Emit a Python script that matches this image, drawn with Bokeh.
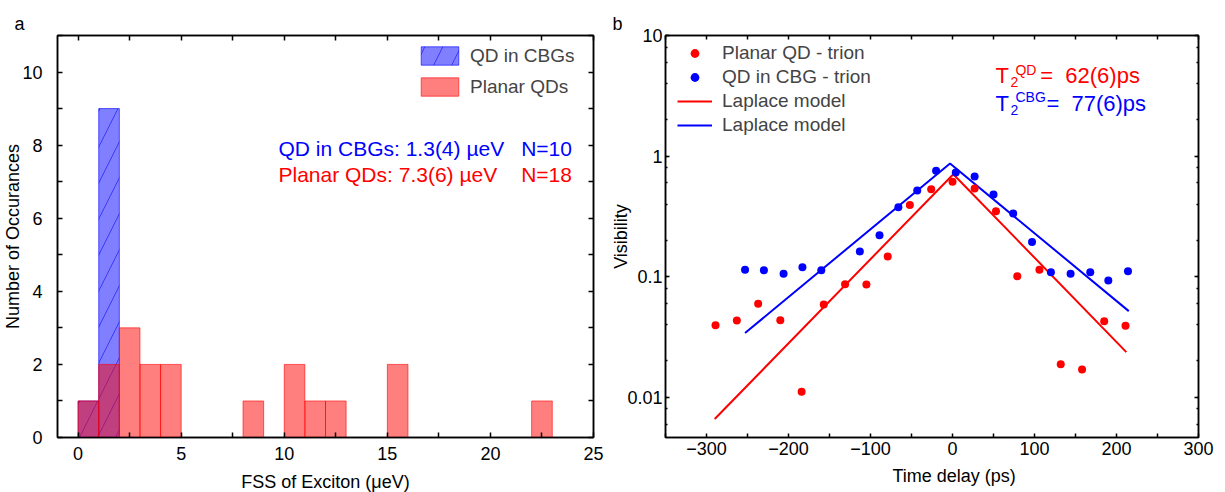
import math
from bokeh.plotting import figure
from bokeh.models import (Range1d, LinearAxis, LogAxis, FixedTicker, LogTicker, Label,
                          Legend, LegendItem, CustomJSTickFormatter, ColumnDataSource,
                          CustomLabelingPolicy, Title)
from bokeh.layouts import row
from bokeh.embed import file_html
from bokeh.resources import INLINE

FONT = "Liberation Sans"
RED = "#ff0000"
BLUE = "#0000ff"
NB = "\u00a0"

# ---------------- data: panel a (histogram) ----------------
cbg_bin_left = [0, 1]
cbg_counts = [1, 9]
planar_bin_left = [0, 1, 2, 3, 4, 8, 10, 11, 12, 15, 22]
planar_counts = [1, 2, 3, 2, 2, 1, 2, 1, 1, 2, 1]
bin_width = 1
fss_major_ticks = [0, 5, 10, 15, 20, 25]
fss_minor_ticks = [2.5, 7.5, 12.5, 17.5, 22.5]
count_major_ticks = [0, 2, 4, 6, 8, 10]
count_minor_ticks = [1, 3, 5, 7, 9, 11]

# ---------------- data: panel b (visibility) ----------------
planar_delay = [-289, -263, -237, -210, -184, -157, -131, -105, -79, -52,
                -26, 0, 27, 53, 79, 106, 132, 158, 185, 211]
planar_vis = [0.0396, 0.0433, 0.0596, 0.0435, 0.0111, 0.0588, 0.0865, 0.0863, 0.147, 0.394,
              0.532, 0.612, 0.538, 0.349, 0.101, 0.114, 0.0188, 0.0170, 0.0428, 0.0391]
cbg_delay = [-253, -230, -206, -183, -160, -113, -89, -66, -43, -20,
             4, 27, 50, 74, 97, 120, 144, 168, 190, 214]
cbg_vis = [0.114, 0.113, 0.106, 0.120, 0.113, 0.162, 0.221, 0.377, 0.519, 0.755,
           0.731, 0.678, 0.480, 0.334, 0.194, 0.109, 0.106, 0.109, 0.093, 0.111]
planar_model_delay = [-290, 1, 212]
planar_model_vis = [0.0066, 0.708, 0.0237]
cbg_model_delay = [-253, -3, 215]
cbg_model_vis = [0.0341, 0.869, 0.0518]
delay_major_ticks = [-300, -200, -100, 0, 100, 200, 300]
delay_minor_ticks = [-350, -250, -150, -50, 50, 150, 250]

HIDE_POLICY_CODE = """
const out = [];
for (const i of indices) out.push(i);
for (const i of out) indices.unset(i);
return indices;
"""


def style_axis(ax, tick_in, minor_in, standoff, show_labels=True):
    ax.axis_line_color = "black"
    ax.axis_line_width = 1.5
    ax.major_tick_line_color = "black"
    ax.major_tick_line_width = 1.5
    ax.minor_tick_line_color = "black"
    ax.minor_tick_line_width = 1.5
    ax.major_tick_in = tick_in
    ax.major_tick_out = 0
    ax.minor_tick_in = minor_in
    ax.minor_tick_out = 0
    ax.major_label_text_font = FONT
    ax.major_label_text_color = "black"
    ax.axis_label_text_font = FONT
    ax.axis_label_text_font_size = "18px"
    ax.axis_label_text_font_style = "normal"
    ax.axis_label_text_color = "black"
    if show_labels:
        ax.major_label_standoff = standoff
        ax.major_label_text_font_size = "18px"
    else:
        ax.major_label_standoff = 0
        ax.major_label_text_font_size = "1px"
        ax.formatter = CustomJSTickFormatter(code="return '';")
        ax.major_label_policy = CustomLabelingPolicy(code=HIDE_POLICY_CODE)


def add_text(p, x, y, text, size, color="black", align="left"):
    # y is placed at the vertical middle of the text
    p.add_layout(Label(x=x, y=y, text=text, text_font=FONT, text_font_size=size,
                       text_color=color, text_align=align, text_baseline="middle"))


def panel_letter(p, letter, offset):
    p.title.text = letter
    p.title.align = "left"
    p.title.vertical_align = "top"
    p.title.offset = offset
    p.title.standoff = 0
    p.title.text_font = FONT
    p.title.text_font_size = "18px"
    p.title.text_font_style = "normal"
    p.title.text_color = "black"


# ================= panel a =================
p1 = figure(frame_width=536, frame_height=402,
            min_border_left=55, min_border_right=12, min_border_top=34, min_border_bottom=56,
            x_range=Range1d(-1, 25), y_range=Range1d(0, 11),
            output_backend="svg", toolbar_location=None)
p1.xgrid.visible = False
p1.ygrid.visible = False
p1.outline_line_color = "black"
p1.outline_line_width = 1.5
panel_letter(p1, "a", -43)

p1.xaxis.ticker = FixedTicker(ticks=fss_major_ticks, minor_ticks=fss_minor_ticks)
p1.yaxis.ticker = FixedTicker(ticks=count_major_ticks, minor_ticks=count_minor_ticks)
style_axis(p1.xaxis[0], 5, 5, 9)
style_axis(p1.yaxis[0], 5, 5, 15)
p1.xaxis.axis_label = "FSS of Exciton (μeV)"
p1.xaxis.axis_label_standoff = 9
p1.yaxis.axis_label = "Number of Occurances"
p1.yaxis.axis_label_standoff = -4
top1 = LinearAxis(ticker=FixedTicker(ticks=fss_major_ticks, minor_ticks=fss_minor_ticks))
right1 = LinearAxis(ticker=FixedTicker(ticks=count_major_ticks, minor_ticks=count_minor_ticks))
style_axis(top1, 5, 5, 0, False)
style_axis(right1, 5, 5, 0, False)
p1.add_layout(top1, "above")
p1.add_layout(right1, "right")

cbg_src = ColumnDataSource(dict(left=cbg_bin_left,
                                right=[b + bin_width for b in cbg_bin_left],
                                top=cbg_counts))
pl_src = ColumnDataSource(dict(left=planar_bin_left,
                               right=[b + bin_width for b in planar_bin_left],
                               top=planar_counts))
r_cbg = p1.quad(left="left", right="right", top="top", bottom=0, source=cbg_src,
                fill_color=BLUE, fill_alpha=0.5, line_color=BLUE, line_alpha=0.6,
                line_width=1, hatch_pattern="/", hatch_color=BLUE, hatch_alpha=0.55,
                hatch_scale=36, hatch_weight=1)
r_pl = p1.quad(left="left", right="right", top="top", bottom=0, source=pl_src,
               fill_color=RED, fill_alpha=0.5, line_color=RED, line_alpha=0.6,
               line_width=1)

leg1 = Legend(items=[LegendItem(label="QD in CBGs", renderers=[r_cbg]),
                     LegendItem(label="Planar QDs", renderers=[r_pl])],
              location=(359, 339), padding=0, margin=0, spacing=8,
              glyph_width=47, glyph_height=23, label_height=23, label_standoff=7,
              label_text_font=FONT, label_text_font_size="19px",
              border_line_color=None, background_fill_alpha=0)
p1.add_layout(leg1)

add_text(p1, 9.72, 7.908, "QD in CBGs: 1.3(4) µeV", "21px", BLUE)
add_text(p1, 21.49, 7.908, "N=10", "21px", BLUE)
add_text(p1, 9.72, 7.21, "Planar QDs: 7.3(6) µeV", "21px", RED)
add_text(p1, 21.49, 7.21, "N=18", "21px", RED)

# ================= panel b =================
p2 = figure(frame_width=533, frame_height=402,
            min_border_left=60, min_border_right=29, min_border_top=35, min_border_bottom=55,
            x_range=Range1d(-350, 300), y_range=Range1d(0.00464, 10), y_axis_type="log",
            output_backend="svg", toolbar_location=None)
p2.xgrid.visible = False
p2.ygrid.visible = False
p2.outline_line_color = "black"
p2.outline_line_width = 1.5
panel_letter(p2, "b", -53)

p2.xaxis.ticker = FixedTicker(ticks=delay_major_ticks, minor_ticks=delay_minor_ticks)
p2.xaxis.formatter = CustomJSTickFormatter(
    code="return tick < 0 ? '\\u2212' + String(Math.abs(tick)) : String(tick);")
style_axis(p2.xaxis[0], 4, 4, 4)
p2.yaxis.ticker = LogTicker()
p2.yaxis.formatter = CustomJSTickFormatter(
    code="return String(parseFloat(tick.toPrecision(3)));")
style_axis(p2.yaxis[0], 4, 2, 3)
p2.yaxis.axis_label = "Visibility"
p2.yaxis.axis_label_standoff = -7
top2 = LinearAxis(ticker=FixedTicker(ticks=delay_major_ticks, minor_ticks=delay_minor_ticks))
right2 = LogAxis(ticker=LogTicker())
style_axis(top2, 4, 4, 0, False)
style_axis(right2, 4, 2, 0, False)
p2.add_layout(top2, "above")
p2.add_layout(right2, "right")
xtitle2 = Title(text="Time delay (ps)", align="left", offset=227, standoff=12,
                text_font=FONT, text_font_size="18px", text_font_style="normal",
                text_color="black")
p2.add_layout(xtitle2, "below")

r_pl_fit = p2.line(planar_model_delay, planar_model_vis, line_color=RED, line_width=2)
r_cbg_fit = p2.line(cbg_model_delay, cbg_model_vis, line_color=BLUE, line_width=2)
r_pl_pts = p2.scatter(planar_delay, planar_vis, size=8, fill_color=RED, line_color=None)
r_cbg_pts = p2.scatter(cbg_delay, cbg_vis, size=8, fill_color=BLUE, line_color=None)

leg2 = Legend(items=[LegendItem(label="Planar QD - trion", renderers=[r_pl_pts]),
                     LegendItem(label="QD in CBG - trion", renderers=[r_cbg_pts]),
                     LegendItem(label="Laplace model", renderers=[r_pl_fit]),
                     LegendItem(label="Laplace model", renderers=[r_cbg_fit])],
              location=(12, 301), padding=0, margin=0, spacing=2,
              glyph_width=35, glyph_height=22, label_height=22, label_standoff=10,
              label_text_font=FONT, label_text_font_size="19px",
              border_line_color=None, background_fill_alpha=0)
p2.add_layout(leg2)

# T2 annotations
add_text(p2, 52.4, 4.615, "T", "22px", RED)
add_text(p2, 70.7, 4.091, "2", "14px", RED)
add_text(p2, 76.8, 5.217, "QD", "14px", RED)
add_text(p2, 107.0, 4.615, "=" + NB + NB + "62(6)ps", "22px", RED)
add_text(p2, 52.4, 2.732, "T", "22px", BLUE)
add_text(p2, 70.7, 2.426, "2", "14px", BLUE)
add_text(p2, 76.8, 3.069, "CBG", "14px", BLUE)
add_text(p2, 114.5, 2.732, "=" + NB + NB + "77(6)ps", "22px", BLUE)

layout = row(p1, p2)
open("out.html", "w").write(file_html(layout, INLINE))
